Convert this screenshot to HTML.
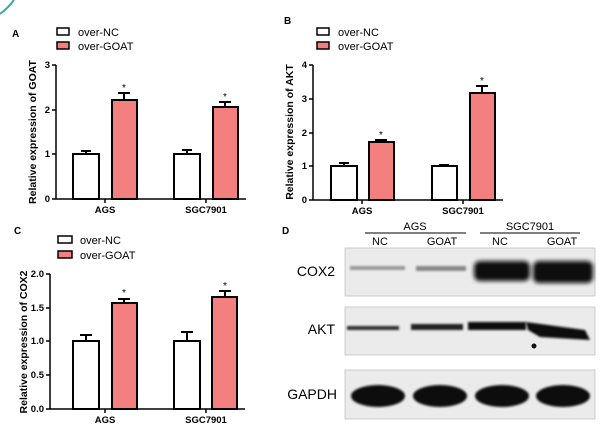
<!DOCTYPE html>
<html><head><style>
html,body{margin:0;padding:0;background:#fff;}
svg{display:block;}
text{font-family:"Liberation Sans",Arial,sans-serif;}
.b{font-weight:bold;}
</style></head><body>
<svg width="607" height="433" viewBox="0 0 607 433" xmlns="http://www.w3.org/2000/svg">
<defs>
<filter id="bl" x="-20%" y="-50%" width="140%" height="200%"><feGaussianBlur stdDeviation="2"/></filter>
<filter id="bl2" x="-20%" y="-50%" width="140%" height="200%"><feGaussianBlur stdDeviation="1"/></filter>
</defs>
<path d="M0,14 Q8,8 14,0" stroke="#3aa99f" stroke-width="2" fill="none"/>
<!-- Panel labels -->
<text x="12" y="37" font-size="10" class="b">A</text>
<text x="284" y="24" font-size="10" class="b">B</text>
<text x="14" y="234" font-size="10" class="b">C</text>
<text x="282" y="234" font-size="10" class="b">D</text>

<!-- Panel A -->
<g stroke="#000" stroke-width="1.5">
<rect x="57" y="28" width="12" height="7" fill="#fff"/>
<rect x="57" y="42" width="12" height="7" fill="#f47f7f"/>
</g>
<text x="78" y="36" font-size="11">over-NC</text>
<text x="78" y="50" font-size="11">over-GOAT</text>
<text transform="translate(36,132) rotate(-90)" text-anchor="middle" font-size="10.5" class="b">Relative expression of GOAT</text>
<g stroke="#000" stroke-width="1.5" fill="none">
<line x1="56" y1="65" x2="56" y2="199"/>
<line x1="56" y1="199" x2="246" y2="199"/>
<line x1="52" y1="65" x2="56" y2="65"/><line x1="52" y1="110" x2="56" y2="110"/><line x1="52" y1="154" x2="56" y2="154"/><line x1="52" y1="199" x2="56" y2="199"/>
<line x1="105" y1="199" x2="105" y2="203"/><line x1="206" y1="199" x2="206" y2="203"/>
</g>
<g font-size="9.5" class="b" text-anchor="end"><text x="50" y="68">3</text><text x="50" y="113">2</text><text x="50" y="157">1</text><text x="50" y="202">0</text></g>
<g font-size="9.5" class="b" text-anchor="middle"><text x="105" y="213">AGS</text><text x="206" y="213">SGC7901</text></g>
<g stroke="#000" stroke-width="2">
<line x1="86" y1="154" x2="86" y2="151"/><line x1="81" y1="151" x2="91" y2="151"/>
<line x1="124" y1="100" x2="124" y2="93"/><line x1="118" y1="93" x2="130" y2="93"/>
<line x1="187" y1="154" x2="187" y2="150"/><line x1="182" y1="150" x2="192" y2="150"/>
<line x1="225" y1="107" x2="225" y2="102"/><line x1="219" y1="102" x2="231" y2="102"/>
<rect x="73" y="154" width="26" height="45" fill="#fff"/>
<rect x="112" y="100" width="25" height="99" fill="#f47f7f"/>
<rect x="174" y="154" width="26" height="45" fill="#fff"/>
<rect x="213" y="107" width="25" height="92" fill="#f47f7f"/>
</g>
<g font-size="10" text-anchor="middle"><text x="124" y="91">*</text><text x="225" y="100">*</text></g>

<!-- Panel B -->
<g stroke="#000" stroke-width="1.5">
<rect x="317" y="28" width="12" height="7" fill="#fff"/>
<rect x="317" y="42" width="12" height="7" fill="#f47f7f"/>
</g>
<text x="338" y="36" font-size="11">over-NC</text>
<text x="338" y="50" font-size="11">over-GOAT</text>
<text transform="translate(293,132) rotate(-90)" text-anchor="middle" font-size="10.5" class="b">Relative expression of AKT</text>
<g stroke="#000" stroke-width="1.5" fill="none">
<line x1="313" y1="65" x2="313" y2="200"/>
<line x1="313" y1="200" x2="503" y2="200"/>
<line x1="309" y1="65" x2="313" y2="65"/><line x1="309" y1="99" x2="313" y2="99"/><line x1="309" y1="133" x2="313" y2="133"/><line x1="309" y1="166" x2="313" y2="166"/><line x1="309" y1="200" x2="313" y2="200"/>
<line x1="362" y1="200" x2="362" y2="204"/><line x1="463" y1="200" x2="463" y2="204"/>
</g>
<g font-size="9.5" class="b" text-anchor="end"><text x="307" y="68">4</text><text x="307" y="102">3</text><text x="307" y="136">2</text><text x="307" y="169">1</text><text x="307" y="203">0</text></g>
<g font-size="9.5" class="b" text-anchor="middle"><text x="362" y="214">AGS</text><text x="463" y="214">SGC7901</text></g>
<g stroke="#000" stroke-width="2">
<line x1="344" y1="166" x2="344" y2="163"/><line x1="339" y1="163" x2="349" y2="163"/>
<line x1="381" y1="142" x2="381" y2="140"/><line x1="375" y1="140" x2="387" y2="140"/>
<line x1="444" y1="166" x2="444" y2="165"/><line x1="439" y1="165" x2="449" y2="165"/>
<line x1="482" y1="93" x2="482" y2="86"/><line x1="476" y1="86" x2="488" y2="86"/>
<rect x="331" y="166" width="26" height="34" fill="#fff"/>
<rect x="369" y="142" width="25" height="58" fill="#f47f7f"/>
<rect x="432" y="166" width="25" height="34" fill="#fff"/>
<rect x="470" y="93" width="25" height="107" fill="#f47f7f"/>
</g>
<g font-size="10" text-anchor="middle"><text x="381" y="138">*</text><text x="482" y="84">*</text></g>

<!-- Panel C -->
<g stroke="#000" stroke-width="1.5">
<rect x="58" y="236" width="14" height="7" fill="#fff"/>
<rect x="58" y="251" width="14" height="7" fill="#f47f7f"/>
</g>
<text x="80" y="244" font-size="11">over-NC</text>
<text x="80" y="259" font-size="11">over-GOAT</text>
<text transform="translate(27,342) rotate(-90)" text-anchor="middle" font-size="10.5" class="b">Relative expression of COX2</text>
<g stroke="#000" stroke-width="1.5" fill="none">
<line x1="50" y1="274" x2="50" y2="409"/>
<line x1="50" y1="409" x2="245" y2="409"/>
<line x1="46" y1="274" x2="50" y2="274"/><line x1="46" y1="308" x2="50" y2="308"/><line x1="46" y1="341" x2="50" y2="341"/><line x1="46" y1="375" x2="50" y2="375"/><line x1="46" y1="409" x2="50" y2="409"/>
<line x1="105" y1="409" x2="105" y2="413"/><line x1="206" y1="409" x2="206" y2="413"/>
</g>
<g font-size="9.5" class="b" text-anchor="end"><text x="44" y="277">2.0</text><text x="44" y="311">1.5</text><text x="44" y="344">1.0</text><text x="44" y="378">0.5</text><text x="44" y="412">0.0</text></g>
<g font-size="9.5" class="b" text-anchor="middle"><text x="105" y="423">AGS</text><text x="206" y="423">SGC7901</text></g>
<g stroke="#000" stroke-width="2">
<line x1="86" y1="341" x2="86" y2="335"/><line x1="80" y1="335" x2="92" y2="335"/>
<line x1="124" y1="303" x2="124" y2="299"/><line x1="118" y1="299" x2="130" y2="299"/>
<line x1="187" y1="341" x2="187" y2="332"/><line x1="181" y1="332" x2="193" y2="332"/>
<line x1="225" y1="297" x2="225" y2="291"/><line x1="219" y1="291" x2="231" y2="291"/>
<rect x="73" y="341" width="26" height="68" fill="#fff"/>
<rect x="112" y="303" width="25" height="106" fill="#f47f7f"/>
<rect x="174" y="341" width="26" height="68" fill="#fff"/>
<rect x="212" y="297" width="25" height="112" fill="#f47f7f"/>
</g>
<g font-size="10" text-anchor="middle"><text x="124" y="296">*</text><text x="225" y="289">*</text></g>

<!-- Panel D -->
<text x="415" y="230" font-size="11" text-anchor="middle">AGS</text>
<text x="530" y="230" font-size="11" text-anchor="middle">SGC7901</text>
<line x1="365" y1="233" x2="466" y2="233" stroke="#000" stroke-width="1"/>
<line x1="480" y1="233" x2="580" y2="233" stroke="#000" stroke-width="1"/>
<g font-size="11" text-anchor="middle"><text x="380" y="245">NC</text><text x="442" y="245">GOAT</text><text x="500" y="245">NC</text><text x="562" y="245">GOAT</text></g>
<g font-size="14" text-anchor="end"><text x="335" y="276">COX2</text><text x="335" y="334">AKT</text><text x="337" y="399">GAPDH</text></g>
<g fill="#ebebeb" stroke="#bbb" stroke-width="0.7">
<rect x="345" y="248" width="250" height="48"/>
<rect x="345" y="307" width="250" height="48"/>
<rect x="345" y="370" width="250" height="49"/>
</g>
<g fill="#111">
<rect x="350" y="266" width="55" height="4" fill="#999" filter="url(#bl2)"/>
<rect x="416" y="266" width="50" height="5" fill="#888" filter="url(#bl2)"/>
<rect x="474" y="261" width="56" height="20" rx="6" filter="url(#bl)"/>
<rect x="533" y="261" width="60" height="22" rx="6" filter="url(#bl)"/>
<rect x="347" y="326" width="52" height="4" fill="#333" filter="url(#bl2)"/>
<rect x="411" y="324" width="52" height="6" fill="#222" filter="url(#bl2)"/>
<rect x="468" y="322" width="58" height="8" filter="url(#bl2)"/>
<path d="M526,322 L585,330 L590,340 L540,337 L528,330 Z" filter="url(#bl2)"/>
<circle cx="534" cy="346" r="2.5"/>
<ellipse cx="378" cy="396" rx="27" ry="11" filter="url(#bl2)"/>
<ellipse cx="440" cy="396" rx="27" ry="11" filter="url(#bl2)"/>
<ellipse cx="502" cy="396" rx="27" ry="11" filter="url(#bl2)"/>
<ellipse cx="563" cy="396" rx="27" ry="11" filter="url(#bl2)"/>
</g>
</svg>
</body></html>
